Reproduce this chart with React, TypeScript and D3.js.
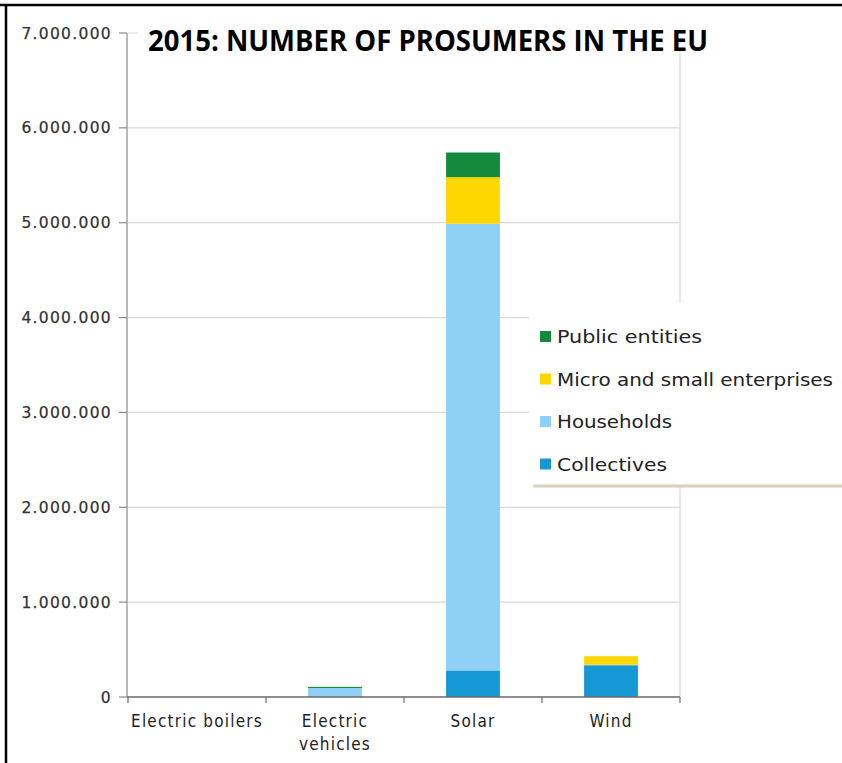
import React from "react";
import * as d3 from "d3";

const categories = ["Electric boilers", "Electric vehicles", "Solar", "Wind"];
const seriesNames = ["Collectives", "Households", "Micro and small enterprises", "Public entities"];
const collectives = [0, 0, 280000, 335000];
const households = [0, 95000, 4710000, 5000];
const microSmall = [0, 0, 490000, 90000];
const publicEntities = [0, 12000, 260000, 0];
const seriesColors = ["#1598d4", "#8fd0f6", "#ffd600", "#138a3b"];
const yTicks = [0, 1000000, 2000000, 3000000, 4000000, 5000000, 6000000, 7000000];
const titleText = "2015: NUMBER OF PROSUMERS IN THE EU";
const legendOrder = ["Public entities", "Micro and small enterprises", "Households", "Collectives"];
const legendWidths = [145, 276, 115, 110];

const W = 842;
const H = 763;

export default function App() {
  const values = [collectives, households, microSmall, publicEntities];
  const table = categories.map((c, i) => {
    const row: any = { category: c };
    seriesNames.forEach((s, k) => (row[s] = values[k][i]));
    return row;
  });
  const stacked = d3.stack().keys(seriesNames)(table);

  const y = d3.scaleLinear().domain([0, 7000000]).range([697, 33]);
  const x = d3.scaleBand().domain(categories).range([128, 680]).padding(0);
  const barW = x.bandwidth() * 0.39;
  const color = d3.scaleOrdinal<string, string>().domain(seriesNames).range(seriesColors);
  const fmt = d3.formatLocale({ decimal: ",", thousands: ".", grouping: [3], currency: ["", ""] }).format(",");

  const wrap = (s: string) => (s.length > 16 ? s.split(" ") : [s]);
  const x0 = x.range()[0];
  const x1 = x.range()[1];

  return (
    <svg width={W} height={H} style={{ position: "absolute", left: 0, top: 0, background: "#fff" }}>
      <rect x={0} y={0} width={W} height={H} fill="#fff" />
      {/* gridlines */}
      {yTicks.map((t) => (
        <line key={"g" + t} x1={x0} x2={x1} y1={y(t)} y2={y(t)} stroke="#d9d9d9" strokeWidth={1.2} />
      ))}
      <line x1={x1} x2={x1} y1={y(7000000)} y2={y(0)} stroke="#d9d9d9" strokeWidth={1.2} />
      {/* bars */}
      {stacked.map((layer) => (
        <g key={layer.key} fill={color(layer.key)}>
          {layer.map((d, i) => (
            <rect
              key={i}
              x={(x(categories[i]) as number) + (x.bandwidth() - barW) / 2}
              y={y(d[1])}
              width={barW}
              height={Math.max(0, y(d[0]) - y(d[1]))}
            />
          ))}
        </g>
      ))}
      {/* y axis */}
      <line x1={x0 - 1} x2={x0 - 1} y1={y(7000000)} y2={y(0)} stroke="#8a8a8a" strokeWidth={1.2} />
      {yTicks.map((t) => (
        <g key={"t" + t}>
          <line x1={x0 - 9} x2={x0 - 1} y1={y(t)} y2={y(t)} stroke="#8a8a8a" strokeWidth={1.2} />
          <text
            x={112}
            y={y(t)}
            dy="0.36em"
            textAnchor="end"
            fontFamily="DejaVu Sans"
            fontSize={15.5}
            letterSpacing={1.3}
            fill="#333"
            stroke="#333"
            strokeWidth={0.25}
          >
            {fmt(t)}
          </text>
        </g>
      ))}
      {/* x axis */}
      <line x1={x0 - 1} x2={x1} y1={y(0)} y2={y(0)} stroke="#6e6e6e" strokeWidth={1.5} />
      {[...categories.map((c) => x(c) as number), x1].map((px, i) => (
        <line key={"xt" + i} x1={px} x2={px} y1={y(0)} y2={y(0) + 6} stroke="#6e6e6e" strokeWidth={1.2} />
      ))}
      {categories.map((c) => (
        <text
          key={"xl" + c}
          x={(x(c) as number) + x.bandwidth() / 2}
          y={727}
          textAnchor="middle"
          fontFamily="DejaVu Sans Condensed, DejaVu Sans"
          fontStretch="condensed"
          fontSize={17}
          letterSpacing={1.2}
          fill="#222"
        >
          {wrap(c).map((line, k) => (
            <tspan key={k} x={(x(c) as number) + x.bandwidth() / 2} dy={k === 0 ? 0 : 23}>
              {line}
            </tspan>
          ))}
        </text>
      ))}
      {/* title */}
      <rect x={138} y={12} width={575} height={38} fill="#fff" />
      <text
        x={148}
        y={51}
        fontFamily="Open Sans"
        fontWeight="bold"
        fontSize={28}
        textLength={560}
        lengthAdjust="spacingAndGlyphs"
        fill="#000"
      >
        {titleText}
      </text>
      {/* legend */}
      <rect x={529} y={303} width={W - 529} height={183} fill="#fff" />
      <line x1={533} x2={W} y1={486} y2={486} stroke="#d8d1c2" strokeWidth={3} />
      {legendOrder.map((name, i) => {
        const cy = 337 + i * 42.5;
        return (
          <g key={"lg" + name}>
            <rect x={540} y={cy - 6} width={11} height={11} fill={color(name)} />
            <text
              x={557}
              y={cy}
              dy="0.36em"
              fontFamily="DejaVu Sans Condensed, DejaVu Sans"
              fontStretch="condensed"
              fontSize={18}
              textLength={legendWidths[i]}
              lengthAdjust="spacingAndGlyphs"
              fill="#222"
            >
              {name}
            </text>
          </g>
        );
      })}
      {/* border */}
      <line x1={0} x2={W} y1={5} y2={5} stroke="#000" strokeWidth={2.5} />
      <line x1={6} x2={6} y1={4} y2={H} stroke="#000" strokeWidth={2.5} />
    </svg>
  );
}
